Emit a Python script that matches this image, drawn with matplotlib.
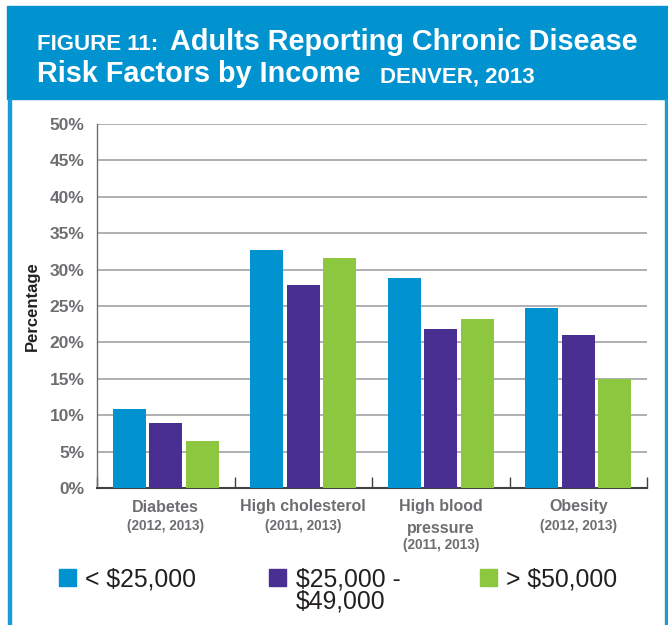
import matplotlib
matplotlib.use("Agg")
import matplotlib.pyplot as plt
import matplotlib.transforms as mtransforms
from matplotlib.patches import Rectangle
import numpy as np

# data
categories = ["Diabetes", "High cholesterol", "High blood\npressure", "Obesity"]
years = ["(2012, 2013)", "(2011, 2013)", "(2011, 2013)", "(2012, 2013)"]
income_labels = ["< \\$25,000", "\\$25,000 -\n\\$49,000", "> \\$50,000"]
low_income = [10.9, 32.7, 28.8, 24.7]
mid_income = [8.9, 27.9, 21.8, 21.0]
high_income = [6.5, 31.6, 23.2, 15.0]
yticks = [0, 5, 10, 15, 20, 25, 30, 35, 40, 45, 50]

colors = ["#0093d0", "#482f91", "#8dc63f"]
gray = "#6d6e71"
dark = "#231f20"

plt.rcParams["font.family"] = ["Liberation Sans", "DejaVu Sans"]

W, H = 668, 625
fig = plt.figure(figsize=(W / 100, H / 100), dpi=100)

def fx(px):
    return px / W

def fy(py):
    return 1 - py / H

# header band and frame
fig.patches.append(Rectangle((fx(7), fy(99)), 1 - fx(7), fy(6) - fy(99),
                             transform=fig.transFigure, color=colors[0], zorder=0))
fig.patches.append(Rectangle((fx(8), 0), fx(3), fy(99), transform=fig.transFigure,
                             color="#1a9ad6", zorder=0))
fig.patches.append(Rectangle((fx(665), 0), fx(2), fy(99), transform=fig.transFigure,
                             color="#1a9ad6", zorder=0))

# title pieces placed one after another
renderer = fig.canvas.get_renderer()

def title_line(parts, x0, ybase):
    x = x0
    for txt, size, gap in parts:
        t = fig.text(fx(x), fy(ybase), txt, fontsize=size, color="white",
                     fontweight="bold", va="baseline", ha="left")
        bb = t.get_window_extent(renderer)
        x = x + bb.width + gap

title_line([("FIGURE 11:", 16, 12), ("Adults Reporting Chronic Disease", 20.8, 0)], 37, 50)
title_line([("Risk Factors by Income", 20.8, 19), ("DENVER, 2013", 16, 0)], 37, 82)

ax = fig.add_axes([fx(97), fy(488), fx(647) - fx(97), fy(124) - fy(488)])

x = np.arange(len(categories))
bw = 0.24
step = 0.267
for i, (vals, c) in enumerate(zip([low_income, mid_income, high_income], colors)):
    ax.bar(x + (i - 1) * step, vals, width=bw, color=c, zorder=3)

ax.set_xlim(-0.5, len(categories) - 0.5)
ax.set_ylim(0, 50)
ax.set_yticks(yticks)
ax.set_yticklabels([f"{v}%" for v in yticks], fontsize=12.5, fontweight="bold", color=gray)
ax.yaxis.grid(True, color="#a7a9ac", linewidth=1.3, zorder=0)
ax.tick_params(axis="y", length=0, pad=9)

# boundary ticks along the bottom
ax.set_xticks(np.arange(len(categories) + 1) - 0.5)
ax.set_xticklabels([])
ax.tick_params(axis="x", direction="in", length=8, width=1, color="#414042")

for s in ["top", "right"]:
    ax.spines[s].set_visible(False)
ax.spines["left"].set_color("#6d6e71")
ax.spines["left"].set_linewidth(1)
ax.spines["bottom"].set_color("#414042")
ax.spines["bottom"].set_linewidth(1.5)

ax.set_ylabel("Percentage", fontsize=12, fontweight="bold", color=dark, labelpad=7)

# category labels under the axis
blend = mtransforms.blended_transform_factory(ax.transData, fig.transFigure)
for i, (cat, yr) in enumerate(zip(categories, years)):
    lines = cat.split("\n")
    for j, ln in enumerate(lines):
        ax.text(i, fy(507 + 21 * j), ln, transform=blend, ha="center", va="center",
                fontsize=11.5, fontweight="bold", color=gray)
    yy = 526 if len(lines) == 1 else 545
    ax.text(i, fy(yy), yr, transform=blend, ha="center", va="center",
            fontsize=9.8, fontweight="bold", color=gray)

# legend drawn by hand to match the layout
sq_x = [59, 269, 480]
txt_x = [85, 296, 506]
for sx, tx, c, lab in zip(sq_x, txt_x, colors, income_labels):
    fig.patches.append(Rectangle((fx(sx), fy(586)), fx(17), fy(569) - fy(586),
                                 transform=fig.transFigure, color=c))
    for j, ln in enumerate(lab.split("\n")):
        fig.text(fx(tx), fy(586 + 22 * j), ln, fontsize=17.8, color=dark,
                 ha="left", va="baseline")

fig.savefig("out.png", dpi=100)
